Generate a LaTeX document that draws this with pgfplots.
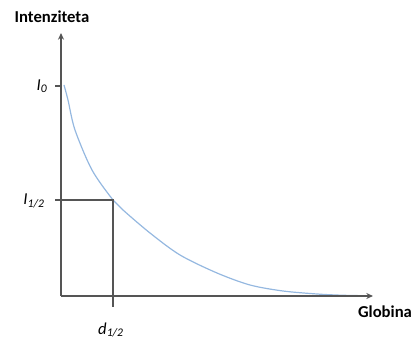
\documentclass[border=0pt]{standalone}
\usepackage{fontspec}
\setmainfont{Carlito}
\usepackage{pgfplots}
\usetikzlibrary{arrows.meta}
\pgfplotsset{compat=1.18}
\definecolor{axgray}{HTML}{555555}
\definecolor{curveblue}{HTML}{95B8E0}
\begin{document}
\begin{tikzpicture}
\begin{axis}[
  scale only axis, width=310.5pt, height=254.25pt,
  xmin=-61, xmax=353, ymin=-43, ymax=296,
  axis lines=none, clip=false,
]
% curve
\addplot[curveblue, line width=0.9pt, smooth] coordinates {
 (3,211) (7,196) (14,166) (31,126) (52,96) (62,86) (89,63) (119,41)
 (156,23) (189,11) (222,5) (256,2) (280,0.8) (302,0.3)
};
% axes
\addplot[axgray, line width=1.1pt, -{Stealth[length=5pt,width=4.5pt]}] coordinates {(0,0) (0,263)};
\addplot[axgray, line width=1.1pt, -{Stealth[length=5pt,width=4.5pt]}] coordinates {(0,0) (312,0)};
% I0 tick
\addplot[axgray, line width=1pt] coordinates {(-6,210) (0,210)};
% half value lines
\addplot[axgray, line width=1.1pt] coordinates {(-6,96) (52,96) (52,-11)};
\node at (axis cs:-19,210) {\fontsize{12.5}{14}\selectfont\textit{I}\textsubscript{\textit{0}}};
\node at (axis cs:-27,95) {\fontsize{12.5}{14}\selectfont\textit{I}\textsubscript{\textit{1/2}}};
\node at (axis cs:50,-34) {\fontsize{12.5}{14}\selectfont\textit{d}\textsubscript{\textit{1/2}}};
\node at (axis cs:-9,279) {\fontsize{12.5}{14}\selectfont\bfseries Intenziteta};
\node at (axis cs:324,-16) {\fontsize{12.5}{14}\selectfont\bfseries Globina};
\end{axis}
\pgfresetboundingbox
\path (current axis.south west) rectangle (current axis.north east);
\end{tikzpicture}
\end{document}
